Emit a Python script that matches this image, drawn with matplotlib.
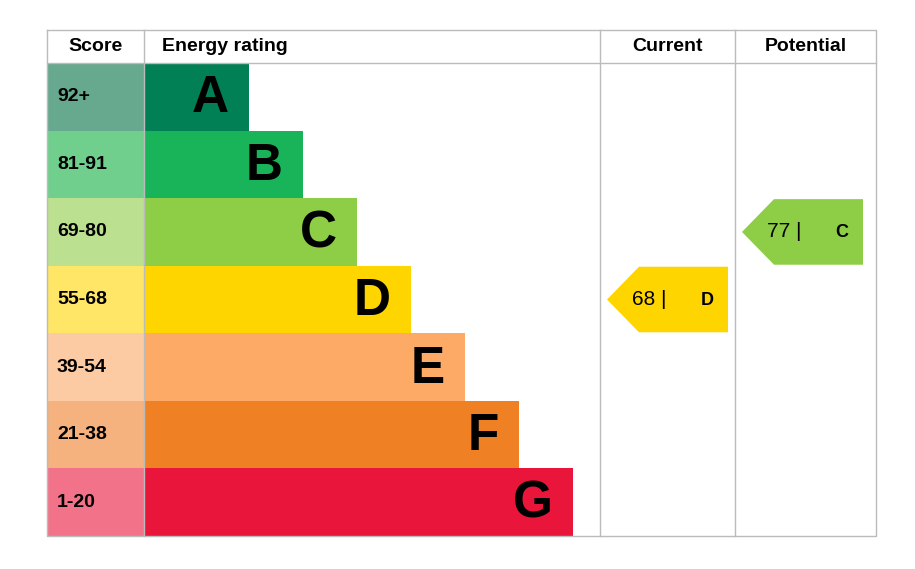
import matplotlib.pyplot as plt
from matplotlib.patches import Rectangle, Polygon

plt.rcParams["font.family"] = ["Liberation Sans", "DejaVu Sans"]

bands = ["A", "B", "C", "D", "E", "F", "G"]
scores = ["92+", "81-91", "69-80", "55-68", "39-54", "21-38", "1-20"]
band_min = [92, 81, 69, 55, 39, 21, 1]
bar_colors = ["#008054", "#19b459", "#8dce46", "#ffd500", "#fcaa65", "#ef8023", "#e9153b"]
score_colors = ["#66a98f", "#71cf8e", "#bbe08f", "#ffe666", "#fdcba3", "#f5b27e", "#f27389"]
current = 68
potential = 77

# layout in pixels
W, H = 915, 569
left, x_rating, x_cur, x_pot, right = 47, 144, 600, 735, 876
top, head, bottom = 30, 63, 536
row_h = (bottom - head) / len(bands)
bar_end0, bar_step = 249, 54

fig = plt.figure(figsize=(W / 100, H / 100), dpi=100)
ax = fig.add_axes([0, 0, 1, 1])
ax.set_xlim(0, W)
ax.set_ylim(H, 0)
ax.axis("off")

line = dict(color="#bbbbbb", lw=1)
ax.plot([left, right, right, left, left], [top, top, bottom, bottom, top], **line)
ax.plot([left, right], [head, head], **line)
for x in (x_rating, x_cur, x_pot):
    ax.plot([x, x], [top, bottom], **line)

hy = (top + head) / 2
hdr = dict(fontsize=14, fontweight="bold", va="center")
ax.text((left + x_rating) / 2, hy, "Score", ha="center", **hdr)
ax.text(x_rating + 18, hy, "Energy rating", ha="left", **hdr)
ax.text((x_cur + x_pot) / 2, hy, "Current", ha="center", **hdr)
ax.text((x_pot + right) / 2, hy, "Potential", ha="center", **hdr)

for i, (b, s) in enumerate(zip(bands, scores)):
    y0 = head + i * row_h
    ax.add_patch(Rectangle((left, y0), x_rating - left, row_h, color=score_colors[i], lw=0))
    end = bar_end0 + i * bar_step
    ax.add_patch(Rectangle((x_rating, y0), end - x_rating, row_h, color=bar_colors[i], lw=0))
    ax.text(left + 10, y0 + row_h / 2, s, fontsize=14, fontweight="bold", va="center")
    ax.text(end - 20, y0 + row_h / 2 + 2, b, fontsize=37, fontweight="bold",
            ha="right", va="center")


def band_of(v):
    for i, m in enumerate(band_min):
        if v >= m:
            return i
    return len(band_min) - 1


def arrow(v, x0, x1):
    i = band_of(v)
    y0 = head + i * row_h + 1
    y1 = y0 + row_h - 2
    tip = 32
    ax.add_patch(Polygon([(x0, (y0 + y1) / 2), (x0 + tip, y0), (x1, y0), (x1, y1), (x0 + tip, y1)],
                         closed=True, color=bar_colors[i], lw=0))
    yc = (y0 + y1) / 2
    ax.text(x0 + 25, yc, f"{v} |", fontsize=15, ha="left", va="center")
    ax.text(x1 - 21, yc + 1, bands[i], fontsize=13, fontweight="bold", ha="center", va="center")


arrow(current, 607, 728)
arrow(potential, 742, 863)

fig.savefig("out.png", dpi=100)
